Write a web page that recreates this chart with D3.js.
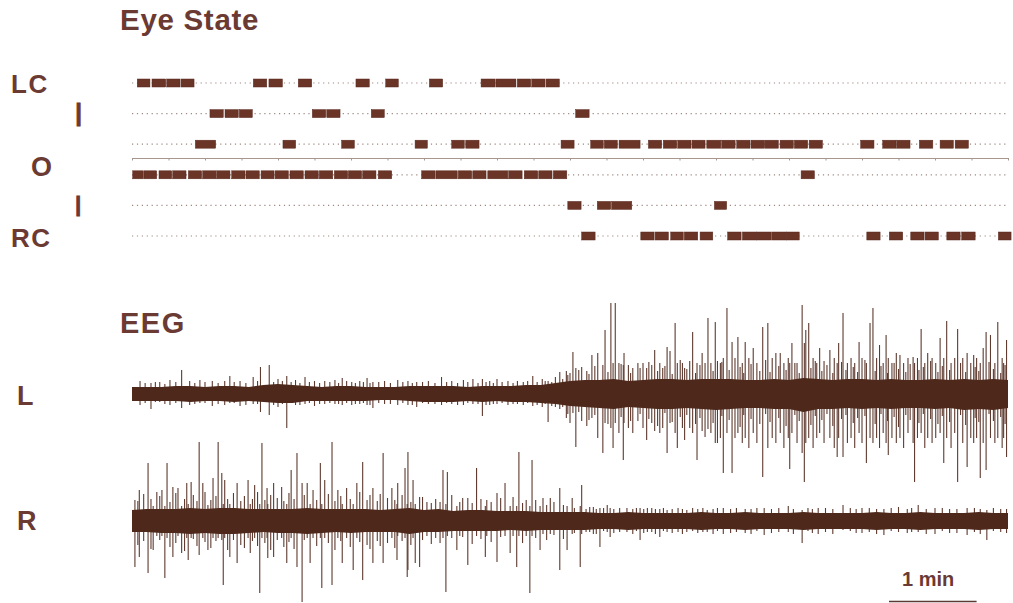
<!DOCTYPE html>
<html>
<head>
<meta charset="utf-8">
<script src="https://cdn.jsdelivr.net/npm/d3@7"></script>
<style>
  html, body { margin: 0; background: #fff; }
  svg { display: block; }
</style>
</head>
<body>
<div id="chart"></div>
<script>
// ---- data (time in seconds, 10 min record) ----
const rowNames = ["LC", "I1", "O1", "O2", "I2", "RC"];

// eye state epochs [start, end]
const eyeLC = [[3.6,12.3],[13.7,23.1],[23.8,32.9],[33.6,42.5],[83.1,92.3],[93.8,103.0],[113.9,123.1],[153.4,162.5],[173.8,182.4],[203.7,212.8],[239.1,248.7],[249.3,263.0],[263.9,273.1],[273.8,282.9],[283.6,292.7]];
const eyeI1 = [[53.4,62.5],[63.7,72.8],[73.5,82.4],[123.5,132.7],[133.4,142.5],[163.9,172.8],[303.9,313.1]];
const eyeO1 = [[43.4,57.3],[103.4,112.1],[143.6,152.3],[193.9,202.3],[219.0,227.6],[228.6,237.7],[293.9,302.8],[314.2,322.8],[323.5,332.4],[333.6,348.0],[353.7,362.8],[363.9,373.1],[373.8,382.9],[383.6,392.5],[393.7,403.3],[403.9,413.1],[414.2,423.3],[424.0,433.3],[433.6,442.7],[443.9,453.0],[453.7,462.8],[463.8,472.9],[499.1,508.2],[514.2,523.3],[523.8,532.9],[539.3,548.5],[553.5,562.6],[563.8,572.9]];
const eyeO2 = [[0.5,7.7],[8.2,16.9],[18.5,27.2],[27.9,37.0],[38.6,47.7],[48.4,57.5],[58.0,67.1],[68.3,77.4],[78.1,87.2],[88.4,97.3],[98.0,107.1],[108.2,117.3],[118.5,127.6],[128.3,137.5],[138.6,147.7],[148.2,157.3],[158.0,167.1],[168.7,177.9],[198.4,207.6],[208.2,222.8],[223.5,232.7],[233.4,242.5],[243.7,257.4],[258.0,267.2],[268.7,277.9],[278.6,287.7],[288.6,297.8],[458.3,467.4]];
const eyeI2 = [[298.5,307.6],[318.7,327.9],[328.5,342.3],[398.9,407.3]];
const eyeRC = [[308.0,317.2],[348.5,357.6],[358.3,367.4],[369.0,377.6],[378.3,387.5],[389.1,397.8],[408.0,417.2],[418.1,427.9],[427.9,437.7],[438.2,448.4],[448.4,457.0],[503.3,512.4],[518.7,527.9],[533.4,542.5],[543.2,552.3],[558.1,567.2],[568.3,577.5],[593.4,602.1]];

// EEG dense band envelope, one value every 10 s (upper / lower amplitude)
const envStep = 10;
const bandUpL = [6,6,6,7,7,6,7,7,6,8,9,8,7,6,7,7,6,6,6,7,7,7,7,6,7,7,7,8,8,10,12,13,13,14,12,13,14,14,13,14,14,14,13,13,14,13,15,14,13,14,14,13,14,13,13,14,13,14,13,14,13];
const bandLoL = [8,8,8,8,9,8,8,9,8,9,10,10,8,8,8,8,8,7,7,8,9,9,9,8,9,8,9,9,10,11,13,14,15,16,14,15,16,16,15,16,17,16,15,15,16,16,19,16,16,15,16,15,16,15,15,16,15,17,16,17,15];
const bandUpR = [10,11,11,11,12,11,12,12,11,11,11,11,12,11,11,11,11,10,11,12,10,11,9,10,10,9,9,9,8,8,8,8,7,7,8,7,7,7,7,8,7,7,8,7,7,7,8,7,7,7,7,8,7,7,8,7,7,7,8,7,7];
const bandLoR = [12,12,13,13,14,13,14,14,13,12,13,13,14,13,12,13,12,12,12,14,12,12,11,11,11,11,10,11,10,10,10,10,9,9,10,9,9,9,9,10,9,9,10,9,9,9,10,9,9,9,9,10,9,9,10,9,9,9,10,9,9];

// EEG deflections [time, peak up, peak down]
const spikesL = [[5.5,12,-12],[13,10,-16],[19,11,-9],[26,13,-12],[34,23,-15],[39.5,12,-12],[46.5,13,-10],[55,12,-13],[63.5,12,-12],[67,17,-10],[74,12,-13],[83,16,-11],[88,26,-19],[94,28,-22],[100,14,-14],[106,17,-35],[112,13,-12],[118.5,16,-11],[125,12,-13],[132,12,-11],[139,13,-11],[144,15,-12],[150.5,11,-12],[156,12,-11],[161,15,-12],[165,11,-15],[173,12,-11],[182,13,-12],[189,12,-12],[195,11,-14],[203,12,-11],[212,16,-12],[219,12,-11],[227,13,-12],[233.5,14,-11],[240,14,-23],[245,12,-12],[250,14,-11],[257.5,12,-12],[264,12,-11],[274.5,17,-13],[281,14,-14],[285,12,-29],[290,16,-14],[293,21,-16],
  [9,10,-10],[16,11,-9],[22.5,9,-11],[30,11,-10],[43,10,-11],[50,11,-10],[59,10,-11],[70,11,-10],[78,10,-12],[86,12,-11],[97,11,-12],[103,12,-11],[109,11,-10],[115,10,-12],[121.5,11,-10],[128.5,10,-11],[135.5,11,-10],[141.5,10,-11],[147,12,-10],[153,10,-11],[158.5,11,-10],[163,10,-12],[169,11,-10],[177,10,-11],[185.5,11,-10],[192,10,-12],[199,11,-10],[207.5,10,-11],[215.5,11,-10],[223,10,-12],[230,11,-10],[237,10,-11],[242.5,11,-12],[247.5,10,-11],[253.5,11,-10],[261,10,-11],[268,11,-12],[271,12,-10],[277.5,11,-12],[283,12,-11],[287.5,11,-13],[295,14,-14],
  [297.5,22,-25],[300,20,-30],[302,41,-20],[304,25,-54],[308,26,-28],[311.5,22,-33],[315,38,-25],[319,40,-45],[322.5,28,-60],[324,63,-30],[328,90,-35],[329.5,30,-55],[331,90,-30],[333.5,30,-40],[336.5,28,-67],[337,40,-30],[340,28,-35],[343,25,-40],[346.5,30,-28],[350,30,-35],[352.5,25,-47],[356,28,-30],[358,43,-38],[361.5,30,-40],[363.5,25,-35],[366.5,46,-60],[368.5,42,-30],[372,70,-40],[373.5,30,-55],[377,30,-35],[378.5,25,-47],[382,32,-35],[384,61,-40],[387,30,-67],[390.5,40,-38],[392.5,30,-44],[394.5,75,-36],[396.5,30,-40],[399.5,71,-50],[401,32,-50],[403,30,-45],[405,35,-80],[407.5,85,-40],[411,51,-80],[413,35,-45],[415,56,-40],[418,30,-50],[420,51,-45],[422.5,35,-55],[425.5,45,-40],[428,30,-50],[432,66,-84],[435.5,70,-55],[438.5,35,-45],[441,40,-50],[444,40,-40],[446.5,30,-55],[449.5,35,-45],[450.5,30,-76],[452,50,-40],[455.5,30,-50],[459,88,-60],[460.5,50,-89],[461.5,63,-50],[463.5,70,-45],[466.5,35,-55],[469,30,-45],[471,45,-40],[474,32,-50],[478,43,-45],[481,35,-55],[483,30,-64],[484,50,-45],[487,80,-64],[490,30,-50],[492.5,35,-45],[495,30,-55],[498,51,-40],[500,35,-50],[503,30,-70],[505.5,70,-45],[507.5,85,-50],[510,35,-45],[512,48,-55],[514.5,30,-40],[516.5,58,-50],[518,35,-62],[520.5,30,-45],[523.5,40,-50],[526,38,-45],[528.5,30,-55],[531.5,35,-40],[535,36,-50],[536,30,-89],[538,35,-45],[540.5,64,-40],[543,30,-55],[545,40,-45],[548,35,-50],[550.5,30,-45],[553.5,55,-40],[556,35,-70],[558,72,-45],[561,30,-55],[563.5,35,-40],[565.5,64,-89],[569,35,-50],[572,40,-74],[574.5,30,-45],[576.5,38,-50],[578.5,35,-45],[581,30,-85],[583,45,-50],[585,61,-77],[588,58,-45],[591,30,-50],[593,71,-45],[596,35,-55],[597,30,-45],[599,53,-64],
  [298.5,18,-21],[306,23,-19],[313,19,-27],[317,27,-22],[326,21,-31],[335,29,-24],[341.5,20,-28],[348,25,-21],[354,31,-26],[360,22,-33],[365,27,-20],[370,19,-29],[375.5,33,-24],[380,24,-22],[386,20,-31],[389,28,-25],[398,22,-30],[404,31,-23],[409,23,-27],[416.5,26,-34],[419,20,-22],[424,29,-26],[430,22,-31],[434,33,-21],[437,21,-29],[443,27,-25],[448,23,-33],[454,30,-22],[457,20,-28],[465,25,-32],[468,32,-23],[472.5,22,-27],[476,28,-21],[480,20,-33],[486,31,-26],[489,23,-22],[494,26,-30],[497,21,-25],[502,33,-23],[509,22,-31],[513,27,-21],[517.5,20,-28],[522,30,-24],[525,24,-34],[530,21,-22],[533,29,-27],[539,23,-30],[542,26,-21],[547,32,-26],[552,21,-31],[555,27,-23],[560,23,-29],[567.5,30,-22],[571,21,-32],[577.5,26,-25],[580,22,-29],[587,31,-21],[590,24,-28],[595,20,-24],[598,28,-31]];

const spikesR = [[2,20,-47],[5,30,-37],[11,57,-53],[14.5,14,-30],[17,28,-16],[20.5,30,-16],[22.5,14,-58],[24,57,-18],[28,33,-37],[31.5,32,-16],[34,14,-33],[37.5,37,-18],[38.5,16,-40],[40.5,38,-18],[46,78,-35],[48.5,37,-18],[52,15,-30],[55.5,42,-18],[59,78,-18],[61.5,47,-20],[62.5,16,-65],[63.5,40,-18],[67,16,-37],[72,37,-43],[79.5,40,-18],[81,16,-33],[84,35,-18],[87.5,16,-73],[89,77,-18],[92.5,32,-18],[93,16,-38],[97,37,-37],[102.5,33,-18],[106,16,-43],[109,50,-18],[113,67,-47],[116.5,37,-82],[120,37,-18],[122,16,-43],[124,30,-18],[129,57,-18],[130,16,-68],[132,40,-18],[137,78,-65],[141,30,-18],[144,16,-43],[147,32,-18],[151.5,16,-50],[154,37,-18],[158,58,-60],[165,32,-43],[172,67,-43],[178,32,-18],[181.5,16,-40],[182,37,-16],[187,52,-18],[188.5,16,-57],[189,68,-50],[192.5,40,-18],[194,16,-43],[197,23,-47],[202,18,-16],[213,50,-18],[215,16,-72],[216,48,-16],[219,25,-18],[222.5,14,-30],[224.5,18,-16],[230,22,-45],[236,52,-16],[242,14,-37],[243,20,-16],[250,27,-42],[255.5,37,-16],[259,14,-33],[261,23,-16],[263.5,14,-47],[265,68,-16],[270,20,-16],[272.5,14,-73],[274,60,-16],[279.5,14,-30],[281.5,22,-14],[286.5,22,-14],[293,32,-50],[298,14,-30],[301.5,22,-14],[307,14,-47],[308,35,-14],[316,13,-14],[320.5,12,-27],[325.5,15,-12],[327.5,12,-17],[339,12,-12],[348,12,-20],[353,12,-12],[361.5,11,-17],[366.5,10,-12],[380,10,-12],[394,10,-12],[405,12,-14],[420,11,-13],[433,12,-15],[449.5,14,-12],[459,10,-23],[470,12,-14],[487,15,-10],[500,12,-13],[515,11,-15],[525,13,-12],[538.5,15,-12],[550,12,-14],[560,11,-13],[572,12,-15],[585.5,10,-20],[595,11,-12],
  [4,19,-25],[8,26,-21],[13,21,-29],[19,24,-20],[26,18,-27],[30,27,-23],[36,21,-31],[42,25,-19],[44.5,19,-26],[50,28,-22],[54,20,-28],[57.5,24,-21],[65.5,21,-30],[69.5,27,-20],[74.5,19,-25],[77,24,-28],[82.5,21,-21],[86,28,-26],[91,20,-23],[95,25,-30],[99.5,22,-20],[104,19,-27],[107.5,27,-22],[111,21,-29],[118,25,-20],[126.5,20,-26],[134.5,26,-23],[139,19,-30],[143,24,-21],[149.5,21,-27],[156,28,-22],[161,20,-25],[163,25,-29],[168,19,-21],[170,26,-26],[175,22,-23],[180,20,-28],[185,25,-21],[191,18,-25],[199,23,-20],[205,17,-24],[208,21,-18],[211,18,-23],[226.5,22,-17],[233,17,-24],[239,21,-19],[246,18,-22],[252.5,22,-17],[267.5,17,-23],[276.5,20,-18],[284,15,-20],[289,18,-15],[295.5,15,-19],
  [303,12,-13],[311,11,-12],[313.5,13,-12],[318,11,-14],[323,12,-11],[330,11,-13],[334,12,-12],[343,11,-14],[345.5,12,-11],[350.5,11,-13],[356,12,-12],[358.5,11,-14],[364,12,-11],[370,11,-13],[374,12,-12],[377,11,-14],[384,12,-11],[387.5,11,-13],[391,12,-12],[398,11,-14],[401,12,-11],[410,11,-13],[414,12,-12],[424,11,-14],[428,12,-11],[438,11,-13],[443,12,-12],[453,11,-14],[463,12,-11],[466,11,-13],[475,12,-12],[480,11,-14],[492,12,-11],[496,11,-13],[505,12,-12],[510,11,-14],[520,12,-11],[531,11,-13],[534,12,-12],[544,11,-14],[555,12,-11],[565,11,-13],[577,12,-12],[581,11,-14],[590,12,-11],[599,11,-13]];

const scaleBarSeconds = 60;

// ---- layout ----
const W = 1013, H = 603;
const textColor = "#6b3a33";
const blockColor = "#6a3427";
const traceColor = "#4e291b";
const spikeColor = "#5e3a2f";

const svg = d3.select("#chart").append("svg")
  .attr("width", W).attr("height", H)
  .attr("viewBox", [0, 0, W, H])
  .attr("font-family", "'Liberation Sans', Arial, sans-serif");

const x = d3.scaleLinear().domain([0, 600]).range([132, 1008]);
const rowY = d3.scalePoint().domain(rowNames).range([83, 236]);

// ---- eye state ----
const eyeRows = [eyeLC, eyeI1, eyeO1, eyeO2, eyeI2, eyeRC];

svg.append("text").attr("x", 120).attr("y", 30)
  .attr("font-size", 29.5).attr("font-weight", "bold")
  .attr("letter-spacing", 0.7).attr("fill", textColor).text("Eye State");

const sideLabels = [
  { t: "LC", x: 11, y: 93, s: 26, w: "bold" },
  { t: "I", x: 74, y: 126, s: 33, w: "normal" },
  { t: "O", x: 31, y: 176, s: 27, w: "bold" },
  { t: "I", x: 74, y: 216, s: 30, w: "normal" },
  { t: "RC", x: 11, y: 247, s: 26, w: "bold" },
  { t: "EEG", x: 120, y: 333, s: 29, w: "bold" },
  { t: "L", x: 17, y: 405, s: 27, w: "bold" },
  { t: "R", x: 17, y: 530, s: 27, w: "bold" }
];
svg.append("g").selectAll("text").data(sideLabels).join("text")
  .attr("x", d => d.x).attr("y", d => d.y)
  .attr("font-size", d => d.s).attr("font-weight", d => d.w)
  .attr("letter-spacing", d => d.t.length > 1 ? 1.5 : 0)
  .attr("fill", textColor)
  .attr("stroke", d => d.w === "normal" ? textColor : "none")
  .attr("stroke-width", 0.9)
  .text(d => d.t);

const eye = svg.append("g").attr("class", "eye");

// dotted guide lines
eye.selectAll("line.dots").data(rowNames).join("line")
  .attr("class", "dots")
  .attr("x1", x(0)).attr("x2", x(600))
  .attr("y1", d => rowY(d)).attr("y2", d => rowY(d))
  .attr("stroke", "#9e8780").attr("stroke-width", 1.2)
  .attr("stroke-dasharray", "1.2 3.7");

// separator axis between left and right eye
const sepAxis = d3.axisBottom(x).tickValues(d3.range(0, 601, 25))
  .tickSize(2.5).tickSizeOuter(0).tickFormat("");
eye.append("g")
  .attr("transform", `translate(0, ${(rowY("O1") + rowY("O2")) / 2 - 1.5})`)
  .call(sepAxis)
  .call(g => g.selectAll("path, line").attr("stroke", "#a8958d").attr("stroke-width", 1));

// state blocks
eyeRows.forEach((segs, i) => {
  eye.append("g").selectAll("rect").data(segs).join("rect")
    .attr("x", d => x(d[0]))
    .attr("width", d => x(d[1]) - x(d[0]))
    .attr("y", rowY(rowNames[i]) - 4)
    .attr("height", 8)
    .attr("fill", blockColor)
    .attr("stroke", "#5c2b20").attr("stroke-width", 0.5);
});

// ---- EEG ----
function drawTrace(up, lo, spikes, base) {
  const y = d3.scaleLinear().domain([-100, 100]).range([base + 100, base - 100]);
  const g = svg.append("g");

  g.selectAll("line").data(spikes).join("line")
    .attr("x1", d => x(d[0])).attr("x2", d => x(d[0]))
    .attr("y1", d => y(d[1])).attr("y2", d => y(d[2]))
    .attr("stroke", spikeColor).attr("stroke-width", 1.1);

  const band = up.map((u, i) => ({ t: i * envStep, u: u, l: lo[i] }));
  const area = d3.area()
    .x(d => x(d.t))
    .y0(d => y(-d.l))
    .y1(d => y(d.u));
  g.append("path").datum(band)
    .attr("d", area)
    .attr("fill", traceColor);
}

drawTrace(bandUpL, bandLoL, spikesL, 393);
drawTrace(bandUpR, bandLoR, spikesR, 520);

// ---- scale bar ----
const barX = 889;
svg.append("line")
  .attr("x1", barX).attr("x2", barX + x(scaleBarSeconds) - x(0))
  .attr("y1", 601.5).attr("y2", 601.5)
  .attr("stroke", "#5a3a35").attr("stroke-width", 1.5);
svg.append("text").attr("x", 902).attr("y", 586)
  .attr("font-size", 20).attr("font-weight", "bold")
  .attr("fill", textColor).text("1 min");
</script>
</body>
</html>
